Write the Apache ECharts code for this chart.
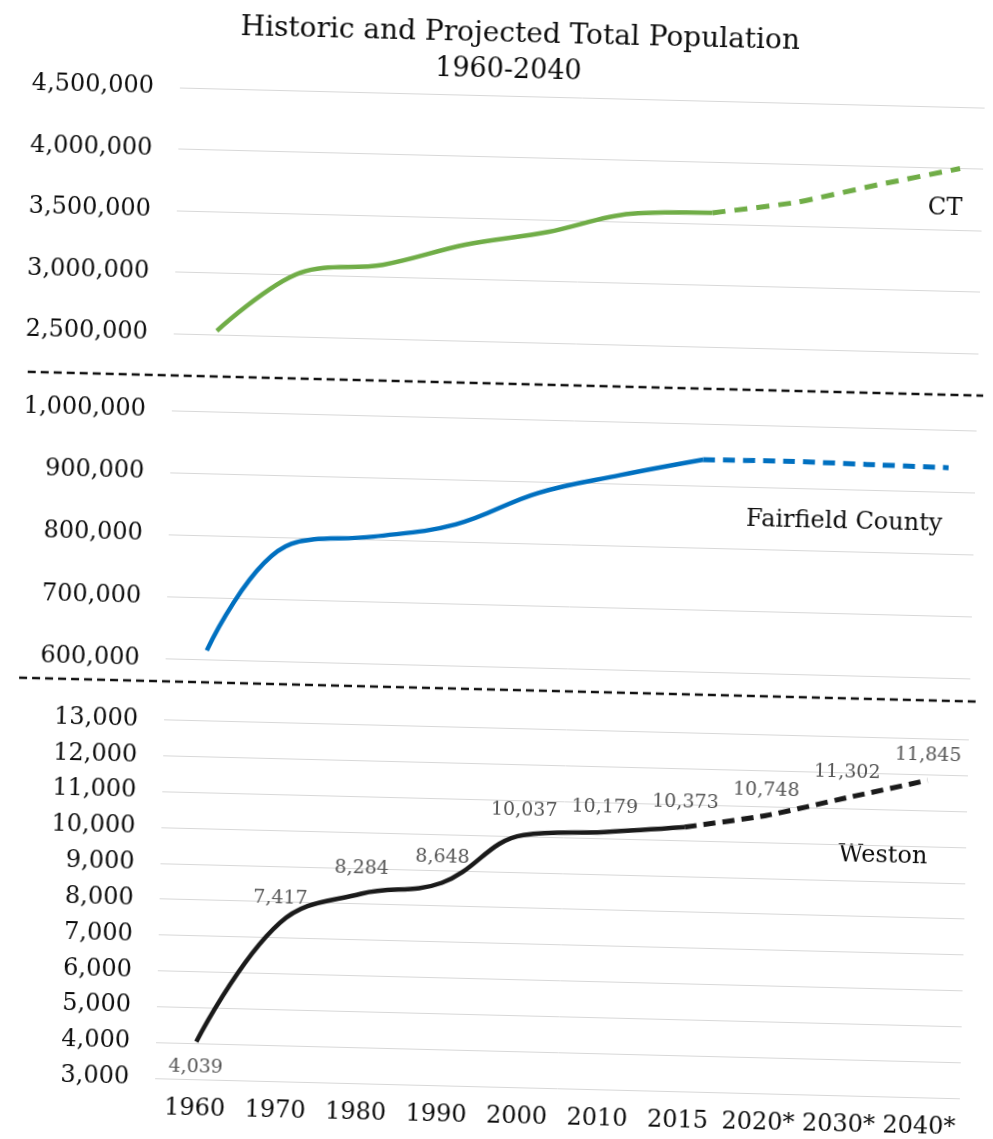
<!DOCTYPE html>
<html>
<head>
<meta charset="utf-8">
<script src="https://cdn.jsdelivr.net/npm/echarts@6/dist/echarts.min.js"></script>
<style>
  html, body { margin: 0; padding: 0; background: #ffffff; overflow: hidden; }
  #wrap { width: 993px; height: 1139px; transform: rotate(1.43deg); transform-origin: 0 0; }
  #chart { width: 993px; height: 1139px; }
</style>
</head>
<body>
<div id="wrap"><div id="chart"></div></div>
<script>
// ---- data ----
const years = ['1960', '1970', '1980', '1990', '2000', '2010', '2015', '2020*', '2030*', '2040*'];
const ctValues = [2530000, 3020000, 3100000, 3280000, 3400000, 3565000, 3590000, 3690000, 3850000, 4000000];
const fairfieldValues = [615000, 790000, 805000, 828000, 882000, 914000, 942000, 943000, 941000, 939000];
const westonValues = [4039, 7417, 8284, 8648, 10037, 10179, 10373, 10748, 11302, 11845];
const projectionStart = 6; // index of 2015, last historic point
const titleLines = ['Historic and Projected Total Population', '1960-2040'];
const panelNames = ['CT', 'Fairfield County', 'Weston'];

// ---- helpers ----
const FONT = '"DejaVu Serif", "Liberation Serif", serif';
const fmt = v => Number(v).toLocaleString('en-US');
const pairs = arr => arr.map((v, i) => [i, v]);
const histPairs = arr => pairs(arr).slice(0, projectionStart + 1);
const projPairs = arr => pairs(arr).slice(projectionStart);
const histVals = arr => arr.map((v, i) => (i <= projectionStart ? v : '-'));
const projVals = arr => arr.map((v, i) => (i >= projectionStart ? v : '-'));

const GRID_LEFT = 182, GRID_WIDTH = 805;
const gridLine = { show: true, lineStyle: { color: '#d8d8d8', width: 1 } };
const yLabel = { fontFamily: FONT, fontSize: 24, color: '#0d0d0d', margin: 26, formatter: v => fmt(v) };

const green = '#70ad47', blue = '#0070c0', black = '#1a1a1a';

const chart = echarts.init(document.getElementById('chart'), null, { renderer: 'canvas' });

const westonLabel = {
  show: true, position: 'top', distance: 15,
  fontFamily: FONT, fontSize: 19, color: '#555555',
  formatter: p => fmt(p.value)
};
const hiddenSymbol = { showSymbol: true, symbol: 'circle', symbolSize: 1, itemStyle: { color: 'rgba(0,0,0,0)' } };

const westonHist = histVals(westonValues).map((v, i) =>
  i === 0 ? { value: v, label: { position: 'bottom', distance: 15 } } : v);

const option = {
  animation: false,
  backgroundColor: '#ffffff',
  grid: [
    { left: GRID_LEFT, width: GRID_WIDTH, top: 83, height: 246 },
    { left: GRID_LEFT, width: GRID_WIDTH, top: 406, height: 248.5 },
    { left: GRID_LEFT, width: GRID_WIDTH, top: 715.6, height: 358.2 }
  ],
  xAxis: [
    { gridIndex: 0, type: 'value', min: -0.524, max: 9.28, show: false },
    { gridIndex: 1, type: 'value', min: -0.5, max: 9.33, show: false },
    {
      gridIndex: 2, type: 'category', data: years, boundaryGap: true,
      axisLine: { show: false }, axisTick: { show: false },
      axisLabel: { fontFamily: FONT, fontSize: 24, color: '#0d0d0d', margin: 18, interval: 0 }
    }
  ],
  yAxis: [
    { gridIndex: 0, type: 'value', min: 2500000, max: 4500000, interval: 500000,
      axisLine: { show: false }, axisTick: { show: false }, splitLine: gridLine, axisLabel: yLabel },
    { gridIndex: 1, type: 'value', min: 600000, max: 1000000, interval: 100000,
      axisLine: { show: false }, axisTick: { show: false }, splitLine: gridLine, axisLabel: yLabel },
    { gridIndex: 2, type: 'value', min: 3000, max: 13000, interval: 1000,
      axisLine: { show: false }, axisTick: { show: false }, splitLine: gridLine, axisLabel: yLabel }
  ],
  series: [
    { name: 'CT', type: 'line', xAxisIndex: 0, yAxisIndex: 0, smooth: 0.35, showSymbol: false,
      data: histPairs(ctValues), lineStyle: { color: green, width: 4.5 } },
    { name: 'CT projected', type: 'line', xAxisIndex: 0, yAxisIndex: 0, smooth: 0.2, showSymbol: false,
      data: projPairs(ctValues), lineStyle: { color: green, width: 5, type: [13, 9] } },
    { name: 'Fairfield County', type: 'line', xAxisIndex: 1, yAxisIndex: 1, smooth: 0.4, showSymbol: false,
      data: histPairs(fairfieldValues), lineStyle: { color: blue, width: 4.5 } },
    { name: 'Fairfield County projected', type: 'line', xAxisIndex: 1, yAxisIndex: 1, smooth: 0.2, showSymbol: false,
      data: projPairs(fairfieldValues), lineStyle: { color: blue, width: 5, type: [12, 8] } },
    Object.assign({ name: 'Weston', type: 'line', xAxisIndex: 2, yAxisIndex: 2, smooth: 0.4,
      data: westonHist, lineStyle: { color: black, width: 4.5 }, label: westonLabel }, hiddenSymbol),
    Object.assign({ name: 'Weston projected', type: 'line', xAxisIndex: 2, yAxisIndex: 2, smooth: 0.2,
      data: projVals(westonValues), lineStyle: { color: black, width: 5, type: [12, 7] },
      label: Object.assign({}, westonLabel, { formatter: p => (p.dataIndex === projectionStart ? '' : fmt(p.value)) }) }, hiddenSymbol)
  ],
  graphic: [
    { type: 'text', x: 521, y: 22, style: { text: titleLines[0], fontFamily: FONT, fontSize: 28, fill: '#0d0d0d', align: 'center', verticalAlign: 'middle' } },
    { type: 'text', x: 510, y: 58, style: { text: titleLines[1], fontFamily: FONT, fontSize: 27, fill: '#0d0d0d', align: 'center', verticalAlign: 'middle' } },
    { type: 'text', x: 950, y: 185, style: { text: panelNames[0], fontFamily: FONT, fontSize: 24, fill: '#0d0d0d', align: 'center', verticalAlign: 'middle' } },
    { type: 'text', x: 857, y: 501, style: { text: panelNames[1], fontFamily: FONT, fontSize: 24, fill: '#0d0d0d', align: 'center', verticalAlign: 'middle' } },
    { type: 'text', x: 904, y: 834, style: { text: panelNames[2], fontFamily: FONT, fontSize: 24, fill: '#0d0d0d', align: 'center', verticalAlign: 'middle' } },
    { type: 'line', shape: { x1: 37, y1: 371, x2: 1010, y2: 371 }, style: { stroke: '#111', lineWidth: 2.5, lineDash: [8, 5] } },
    { type: 'line', shape: { x1: 36, y1: 677, x2: 1010, y2: 677 }, style: { stroke: '#111', lineWidth: 2.5, lineDash: [8, 5] } }
  ]
};
chart.setOption(option);
</script>
</body>
</html>
